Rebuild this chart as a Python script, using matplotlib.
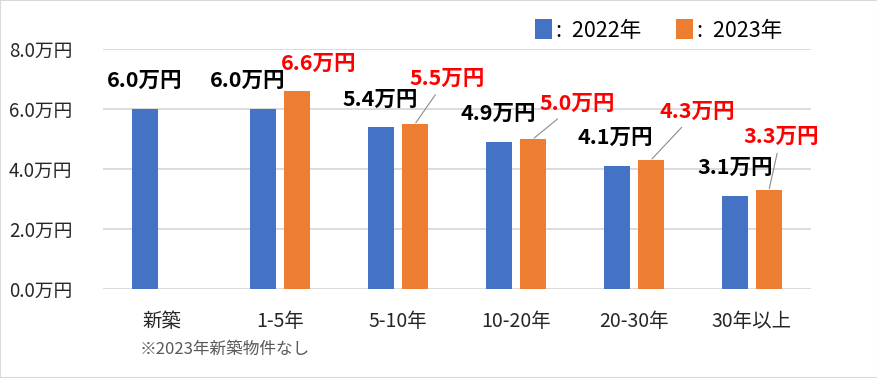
import numpy as np
import matplotlib
matplotlib.use("Agg")
import matplotlib.pyplot as plt
from matplotlib.patches import Patch, Rectangle

plt.rcParams['font.family'] = ['Noto Sans CJK JP', 'DejaVu Sans']

categories = ["新築", "1-5年", "5-10年", "10-20年", "20-30年", "30年以上"]
values_2022 = [6.0, 6.0, 5.4, 4.9, 4.1, 3.1]
values_2023 = [np.nan, 6.6, 5.5, 5.0, 4.3, 3.3]
yticks = [0, 2, 4, 6, 8]
series_names = [":  2022年", ":  2023年"]
note = "※2023年新築物件なし"

blue = "#4472C4"
orange = "#ED7D31"

# label offsets in pixels (dx, dy) and whether a leader line is drawn
off_2022 = [(0, 29), (-15, 29), (-1, 28), (-1, 29), (-2, 29), (0, 29)]
off_2023 = [None, (22, 28), (32, 46), (44, 36), (46, 49), (12, 54)]
lead_2023 = [False, False, True, True, True, True]

fig = plt.figure(figsize=(8.78, 3.78), dpi=100)
ax = fig.add_axes([103/878, 89/378, (811-103)/878, (289-49)/378])

x = np.arange(len(categories))
w = 0.22
d = 0.144
ax.bar(x - d, values_2022, width=w, color=blue, zorder=3)
ax.bar(x + d, values_2023, width=w, color=orange, zorder=3)

ax.set_xlim(-0.5, len(categories) - 0.5)
ax.set_ylim(0, 8)
ax.set_yticks(yticks)
ax.set_yticklabels([f"{v:.1f}万円" for v in yticks], fontsize=13.5, color="#262626")
ax.set_xticks(x)
ax.set_xticklabels(categories, fontsize=14, color="#262626")
ax.tick_params(axis='both', length=0)
ax.tick_params(axis='y', pad=22)
ax.tick_params(axis='x', pad=16)
for s in ax.spines.values():
    s.set_visible(False)
ax.yaxis.grid(True, color="#D9D9D9", lw=1.3, zorder=0)
ax.set_axisbelow(True)

for i, v in enumerate(values_2022):
    ax.annotate(f"{v:.1f}万円", xy=(x[i] - d, v), xytext=off_2022[i],
                textcoords='offset pixels', ha='center', va='center',
                fontsize=15.5, fontweight='bold', color='black', zorder=5)

for i, v in enumerate(values_2023):
    if np.isnan(v):
        continue
    kw = {}
    if lead_2023[i]:
        kw['arrowprops'] = dict(arrowstyle='-', color='#8C8C8C', lw=0.8,
                                shrinkA=3, shrinkB=1)
    ax.annotate(f"{v:.1f}万円", xy=(x[i] + d, v), xytext=off_2023[i],
                textcoords='offset pixels', ha='center', va='center',
                fontsize=15.5, fontweight='bold', color='#FF0000', zorder=5, **kw)

handles = [Patch(facecolor=blue), Patch(facecolor=orange)]
fig.legend(handles, series_names, loc='upper right', bbox_to_anchor=(802/878, 1 - 0/378),
           ncol=2, frameon=False, fontsize=15.5, handlelength=0.8, handleheight=1.05,
           handletextpad=0.2, columnspacing=1.6)

fig.text(140/878, 1 - 349/378, note, fontsize=12, color="#595959", va='center', ha='left')

fig.patches.append(Rectangle((0, 0), 1, 1, transform=fig.transFigure, fill=False,
                             edgecolor="#D9D9D9", lw=1.5))

fig.savefig("out.png", dpi=100)
